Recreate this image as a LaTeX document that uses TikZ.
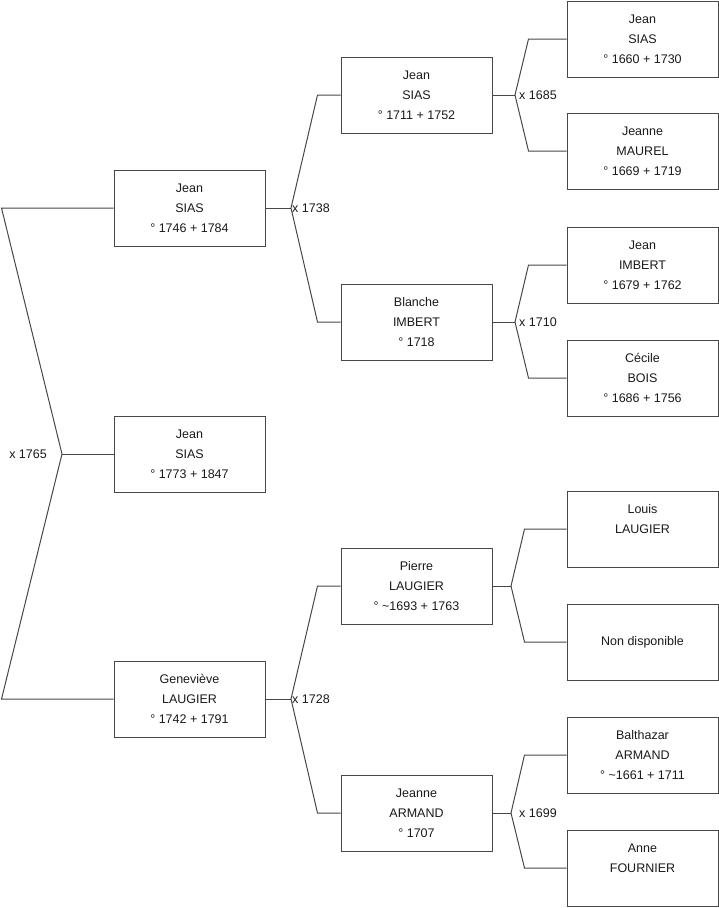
\documentclass[tikz,border=0pt]{standalone}
\usepackage{fontspec}
\setmainfont{Liberation Sans}
\usepackage{tikz}

\begin{document}
\begin{tikzpicture}[x=1pt, y=-1pt,
  person/.style={draw=black!72, line width=1pt, minimum width=151pt, minimum height=76pt,
    inner sep=0pt, align=center, text=black!90, font=\fontsize{12.5}{20}\selectfont},
  link/.style={draw=black!72, line width=1pt},
  union/.style={inner sep=0pt, text=black!90, font=\fontsize{12.5}{15}\selectfont}]
\useasboundingbox (0,0) rectangle (719,908);

% generation 1
\node[person] (f) at (189.5,208) {Jean\\SIAS\\° 1746 + 1784};
\node[person] (c) at (189.5,454) {Jean\\SIAS\\° 1773 + 1847};
\node[person] (m) at (189.5,699) {Geneviève\\LAUGIER\\° 1742 + 1791};

% generation 2
\node[person] (ff) at (416.5,95) {Jean\\SIAS\\° 1711 + 1752};
\node[person] (fm) at (416.5,322) {Blanche\\IMBERT\\° 1718};
\node[person] (mf) at (416.5,586) {Pierre\\LAUGIER\\° \textasciitilde 1693 + 1763};
\node[person] (mm) at (416.5,813) {Jeanne\\ARMAND\\° 1707};

% generation 3
\node[person] (fff) at (642.5,39) {Jean\\SIAS\\° 1660 + 1730};
\node[person] (ffm) at (642.5,151) {Jeanne\\MAUREL\\° 1669 + 1719};
\node[person] (fmf) at (642.5,265) {Jean\\IMBERT\\° 1679 + 1762};
\node[person] (fmm) at (642.5,378) {Cécile\\BOIS\\° 1686 + 1756};
\node[person] (mff) at (642.5,529) {Louis\\LAUGIER\\\mbox{}};
\node[person] (mfm) at (642.5,642) {Non disponible};
\node[person] (mmf) at (642.5,755) {Balthazar\\ARMAND\\° \textasciitilde 1661 + 1711};
\node[person] (mmm) at (642.5,868) {Anne\\FOURNIER\\\mbox{}};

% fork points
\coordinate (v) at (62,454);
\coordinate (vf) at (291,208);
\coordinate (vm) at (291,699);
\coordinate (vff) at (515,95);
\coordinate (vfm) at (515,322);
\coordinate (vmf) at (511,586);
\coordinate (vmm) at (511,813);

% links
\draw[link] (f.west) -- ([xshift=-112pt]f.west) -- (v) -- ([xshift=-112pt]m.west) -- (m.west);
\draw[link] (v) -- (c.west);
\node[union, anchor=east] (uc) at ([xshift=-15pt]v) {x 1765};

\draw[link] (f.east) -- (vf);
\draw[link] (ff.west) -- ([xshift=-23pt]ff.west) -- (vf) -- ([xshift=-23pt]fm.west) -- (fm.west);
\node[union, anchor=west] (uf) at ([xshift=1pt]vf) {x 1738};
\draw[link] (m.east) -- (vm);
\draw[link] (mf.west) -- ([xshift=-23pt]mf.west) -- (vm) -- ([xshift=-23pt]mm.west) -- (mm.west);
\node[union, anchor=west] (um) at ([xshift=1pt]vm) {x 1728};

\draw[link] (ff.east) -- (vff);
\draw[link] (fff.west) -- ([xshift=-38pt]fff.west) -- (vff) -- ([xshift=-38pt]ffm.west) -- (ffm.west);
\node[union, anchor=west] (uff) at ([xshift=4pt]vff) {x 1685};
\draw[link] (fm.east) -- (vfm);
\draw[link] (fmf.west) -- ([xshift=-38pt]fmf.west) -- (vfm) -- ([xshift=-38pt]fmm.west) -- (fmm.west);
\node[union, anchor=west] (ufm) at ([xshift=4pt]vfm) {x 1710};
\draw[link] (mf.east) -- (vmf);
\draw[link] (mff.west) -- ([xshift=-42pt]mff.west) -- (vmf) -- ([xshift=-42pt]mfm.west) -- (mfm.west);
\draw[link] (mm.east) -- (vmm);
\draw[link] (mmf.west) -- ([xshift=-42pt]mmf.west) -- (vmm) -- ([xshift=-42pt]mmm.west) -- (mmm.west);
\node[union, anchor=west] (umm) at ([xshift=8pt]vmm) {x 1699};
\end{tikzpicture}
\end{document}
